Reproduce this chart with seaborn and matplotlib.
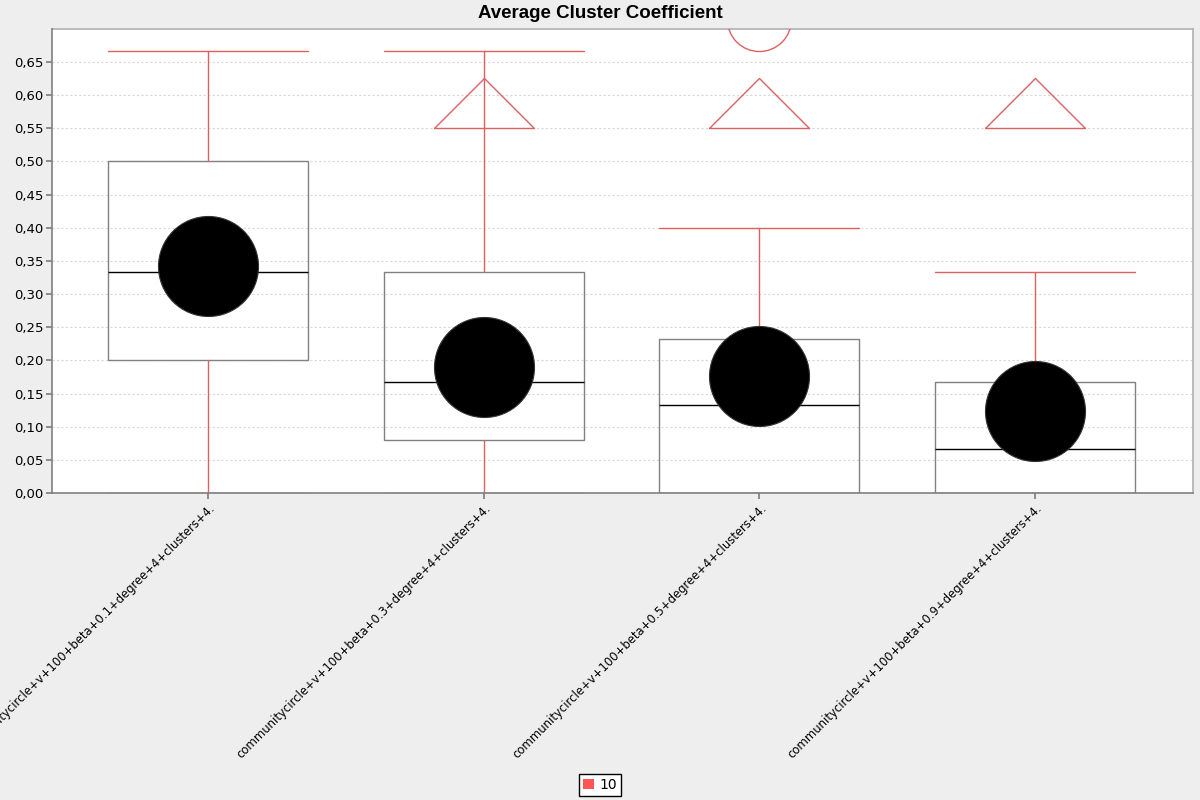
import numpy as np
import pandas as pd
import matplotlib
matplotlib.use("Agg")
import matplotlib.pyplot as plt
import matplotlib.transforms as mtransforms
from matplotlib.patches import Patch
from matplotlib.ticker import FuncFormatter, MultipleLocator
import seaborn as sns

# ---- data ----
categories = [
    "communitycircle+v+100+beta+0.1+degree+4+clusters+4.",
    "communitycircle+v+100+beta+0.3+degree+4+clusters+4.",
    "communitycircle+v+100+beta+0.5+degree+4+clusters+4.",
    "communitycircle+v+100+beta+0.9+degree+4+clusters+4.",
]
q1 = [0.200, 0.080, 0.000, 0.000]
median = [0.333, 0.167, 0.133, 0.067]
q3 = [0.500, 0.333, 0.233, 0.167]
whisker_low = [0.000, 0.000, 0.000, 0.000]
whisker_high = [0.667, 0.667, 0.400, 0.333]
means = [0.342, 0.190, 0.176, 0.124]
outliers = [[], [], [0.714], []]
far_out_high = [False, True, True, True]
series_name = "10"

RED = "#e06060"
GRAY = "#808080"

sns.set_theme(style="white")
plt.rcParams["font.family"] = ["DejaVu Sans"]
plt.rcParams["text.color"] = "black"
plt.rcParams["xtick.labelcolor"] = "black"
plt.rcParams["ytick.labelcolor"] = "black"

fig = plt.figure(figsize=(12, 8), dpi=100, facecolor="#eeeeee")
ax = fig.add_axes([52 / 1200, 1 - 493 / 800, (1193 - 52) / 1200, (493 - 29) / 800])
ax.set_facecolor("white")

pos = np.arange(len(categories))
stats = []
for i, name in enumerate(categories):
    stats.append(dict(label=name, q1=q1[i], med=median[i], q3=q3[i],
                      whislo=whisker_low[i], whishi=whisker_high[i], fliers=[]))

box_w = 0.725
ax.bxp(stats, positions=pos, widths=box_w, capwidths=box_w, patch_artist=True,
       showfliers=False,
       boxprops=dict(facecolor="none", edgecolor=GRAY, linewidth=1),
       medianprops=dict(color="black", linewidth=1),
       whiskerprops=dict(color=RED, linewidth=1),
       capprops=dict(color=RED, linewidth=1),
       zorder=2)

# mean markers
df_mean = pd.DataFrame({"x": pos, "mean": means})
sns.scatterplot(data=df_mean, x="x", y="mean", s=72 ** 2, color="black",
                edgecolor="#333333", linewidth=0.8, ax=ax, zorder=4, legend=False)

# regular outliers
for i, vals in enumerate(outliers):
    if vals:
        ax.scatter([pos[i]] * len(vals), vals, s=46 ** 2, facecolors="none",
                   edgecolors=RED, linewidths=1, zorder=3, clip_on=True)

# far-out indicators (triangle near top of plot)
tri = [(-1, -0.5), (0, 0.5), (1, -0.5), (-1, -0.5)]
trans = mtransforms.blended_transform_factory(ax.transData, ax.transAxes)
for i, flag in enumerate(far_out_high):
    if flag:
        ax.plot(pos[i], 0.8405, marker=tri, markersize=72, markerfacecolor="none",
                markeredgecolor=RED, markeredgewidth=1, transform=trans, zorder=3)

ax.set_xlim(-0.565, len(categories) - 1 + 0.572)
ax.set_ylim(0, 0.6998)
ax.yaxis.set_major_locator(MultipleLocator(0.05))
ax.yaxis.set_major_formatter(FuncFormatter(lambda v, p: f"{v:.2f}".replace(".", ",")))
ax.set_xticks(pos)
ax.set_xticklabels([])

# rotated category labels, anchored just below each tick
label_trans = trans + mtransforms.ScaledTranslation(5 / 100, -13 / 100, fig.dpi_scale_trans)
for i, name in enumerate(categories):
    ax.text(pos[i], 0, name, transform=label_trans, rotation=45, ha="right",
            va="center", rotation_mode="anchor", fontsize=8.4, clip_on=False)

ax.tick_params(axis="y", labelsize=9.5, length=4, color=GRAY, direction="out", left=True, pad=2)
ax.tick_params(axis="x", length=4, color=GRAY, direction="out", bottom=True, pad=2)
ax.set_xlabel("")
ax.set_ylabel("")

ax.yaxis.grid(True, color="#d8d8d8", linestyle=(0, (2, 2)), linewidth=0.8)
ax.set_axisbelow(True)
for side in ["left", "bottom"]:
    ax.spines[side].set_color(GRAY)
    ax.spines[side].set_linewidth(1.2)
    ax.spines[side].set_zorder(5)
for side in ["top", "right"]:
    ax.spines[side].set_color("#b0b0b0")
    ax.spines[side].set_linewidth(1.2)

fig.text(0.5, 1 - 13 / 800, "Average Cluster Coefficient", ha="center", va="center",
         fontsize=13.5, fontweight="bold", color="black",
         family=["Liberation Sans", "DejaVu Sans"])

handles = [Patch(facecolor="#ff5555", edgecolor="none", label=series_name)]
leg = fig.legend(handles=handles, loc="center", bbox_to_anchor=(0.5, 1 - 785 / 800),
                 frameon=True, fancybox=False, edgecolor="black", framealpha=1,
                 facecolor="white", fontsize=10, handlelength=0.8, handleheight=0.8,
                 handletextpad=0.4, borderpad=0.3, borderaxespad=0)
leg.get_frame().set_linewidth(1)

fig.savefig("out.png", dpi=100, facecolor=fig.get_facecolor())
